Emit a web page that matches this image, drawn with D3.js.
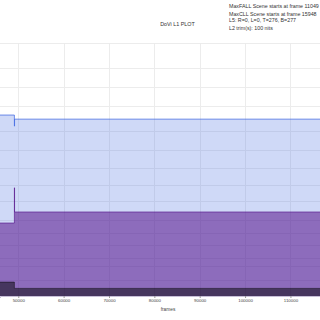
<!DOCTYPE html>
<html><head><meta charset="utf-8">
<script src="https://cdn.jsdelivr.net/npm/d3@7"></script>
<style>html,body{margin:0;padding:0;background:#fff;}svg{display:block;font-family:"Liberation Sans",Arial,sans-serif;}</style>
</head><body>
<svg id="c" width="320" height="320"></svg>
<script>
// Data (frames where each scene starts; values in nits)
const sceneStarts = [40000, 49140, 49180, 120000];
const maxNits = [720, 480, 620, 620];
const avgNits = [8.7, 44, 15, 15];
const minNits = [0.075, 0.02, 0.02, 0.02];
const xTicks = [50000, 60000, 70000, 80000, 90000, 100000, 110000];
const yGridNits = [0.1, 0.5, 1, 2.5, 5, 10, 25, 50, 100, 200, 400, 1000, 2000, 4000, 10000];
const title = "DoVi L1 PLOT";
const infoLines = [
  "MaxFALL Scene starts at frame 11049",
  "MaxCLL Scene starts at frame 15948",
  "L5: R=0, L=0, T=276, B=277",
  "L2 trim(s): 100 nits"
];
const xLabel = "frames";

function pq(n){
  const m1=0.1593017578125,m2=78.84375,c1=0.8359375,c2=18.8515625,c3=18.6875;
  const v=Math.pow(n/10000,m1);
  return Math.pow((c1+c2*v)/(1+c3*v),m2);
}

const svg = d3.select("#c");
const plotTop = 43.3, plotBottom = 296;
const x = d3.scaleLinear().domain([45970, 116520]).range([0, 320]);
const yPQ = d3.scaleLinear().domain([0, 1]).range([plotBottom, plotTop]);
const y = n => yPQ(pq(n));

svg.append("defs").append("clipPath").attr("id","clip")
  .append("rect").attr("x",0).attr("y",plotTop).attr("width",320).attr("height",plotBottom-plotTop);

// grid
const g = svg.append("g");
g.selectAll("line.h").data(yGridNits).join("line")
  .attr("x1",0).attr("x2",320).attr("y1",d=>Math.round(y(d))+0.5).attr("y2",d=>Math.round(y(d))+0.5)
  .attr("stroke","#ececec").attr("stroke-width",1);
g.selectAll("line.v").data(xTicks).join("line")
  .attr("x1",d=>Math.round(x(d))+0.5).attr("x2",d=>Math.round(x(d))+0.5).attr("y1",plotTop).attr("y2",plotBottom)
  .attr("stroke","#ececec").attr("stroke-width",1);

const plot = svg.append("g").attr("clip-path","url(#clip)");
const series = [
  {vals:maxNits, fill:"rgba(65,105,225,0.25)", stroke:"rgba(65,105,225,0.75)"},
  {vals:avgNits, fill:"rgba(75,0,130,0.5)", stroke:"rgba(75,0,130,0.55)"},
  {vals:minNits, fill:"rgba(0,0,0,0.5)", stroke:"rgba(0,0,0,0.45)"}
];
series.forEach(s=>{
  const pts = sceneStarts.map((f,i)=>[f,s.vals[i]]);
  const area = d3.area().curve(d3.curveStepAfter).x(d=>x(d[0])).y0(plotBottom).y1(d=>y(d[1]));
  const line = d3.line().curve(d3.curveStepAfter).x(d=>x(d[0])).y(d=>y(d[1]));
  plot.append("path").datum(pts).attr("d",area).attr("fill",s.fill);
  plot.append("path").datum(pts).attr("d",line).attr("fill","none").attr("stroke",s.stroke).attr("stroke-width",1);
});

// x axis
const ax = svg.append("g").attr("transform",`translate(0,${plotBottom})`)
  .call(d3.axisBottom(x).tickValues(xTicks).tickSize(2).tickPadding(1).tickFormat(d3.format("d")));
ax.select(".domain").attr("stroke","#c8c0d8");
ax.selectAll(".tick line").attr("stroke","#999");
ax.selectAll(".tick text").attr("font-size","4.4px").attr("fill","#444").attr("font-family","Liberation Sans, Arial, sans-serif");

svg.append("text").attr("x",168).attr("y",311).attr("text-anchor","middle")
  .attr("font-size","4.8px").attr("fill","#444").text(xLabel);

svg.append("text").attr("x",177.5).attr("y",26.2).attr("text-anchor","middle")
  .attr("font-size","5.4px").attr("fill","#333").text(title);

svg.selectAll("text.info").data(infoLines).join("text")
  .attr("x",229).attr("y",(d,i)=>[8.2,15.6,22.4,29.6][i])
  .attr("font-size","5.3px").attr("fill","#333").text(d=>d);
</script>
</body></html>
